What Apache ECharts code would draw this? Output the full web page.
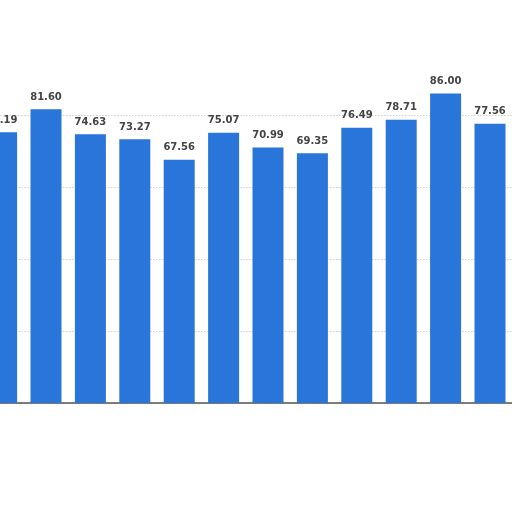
<!DOCTYPE html>
<html>
<head>
<meta charset="utf-8">
<script src="https://cdn.jsdelivr.net/npm/echarts@6/dist/echarts.min.js"></script>
<style>
html, body { margin: 0; padding: 0; background: #fff; }
#echarts { width: 512px; height: 512px; }
</style>
</head>
<body>
<div id="echarts"></div>
<script>
// data (two tall bars had their labels blurred, so estimated)
var categories = ['1', '2', '3', '4', '5', '6', '7', '8', '9', '10', '11', '12'];
var values = [75.19, 81.6, 74.63, 73.27, 67.56, 75.07, 70.99, 69.35, 76.49, 78.71, 86.0, 77.56];
var yTicks = [0, 20, 40, 60, 80];

window.onload = function(){
    var option = {
        backgroundColor: '#fff',
        animation: false,
        grid: {          // chart is cropped: first bar sits half off the left edge
            left: -20.6,
            right: -0.2,
            top: 115,
            bottom: 109,
            containLabel: false,
            outerBoundsMode: 'none'
        },
        xAxis: {
            type: 'category',
            data: categories,
            axisTick: { show: false },
            axisLabel: { show: false },
            axisLine: {
                lineStyle: { color: '#555', width: 1.5 }
            }
        },
        yAxis: {
            type: 'value',
            min: yTicks[0],
            max: yTicks[yTicks.length - 1],
            interval: 20,
            axisLabel: { show: false },
            axisLine: { show: false },
            axisTick: { show: false },
            splitLine: {
                lineStyle: { color: '#b8b8b8', type: [1, 2], width: 1 }
            }
        },
        series: [{
            type: 'bar',
            data: values,
            clip: false,
            barWidth: 31,
            itemStyle: { color: '#2a75d9' },
            label: {
                show: true,
                position: 'top',
                distance: 7,
                color: '#444',
                fontFamily: 'DejaVu Sans',
                fontWeight: 'bold',
                fontSize: 10,
                formatter: function (p) {
                    return p.value.toFixed(2);
                }
            }
        }]
    };
    var myChart = echarts.init(document.getElementById('echarts'));
    myChart.setOption(option);
    window.onresize = function(){
        myChart.resize();
    };
};
</script>
</body>
</html>
